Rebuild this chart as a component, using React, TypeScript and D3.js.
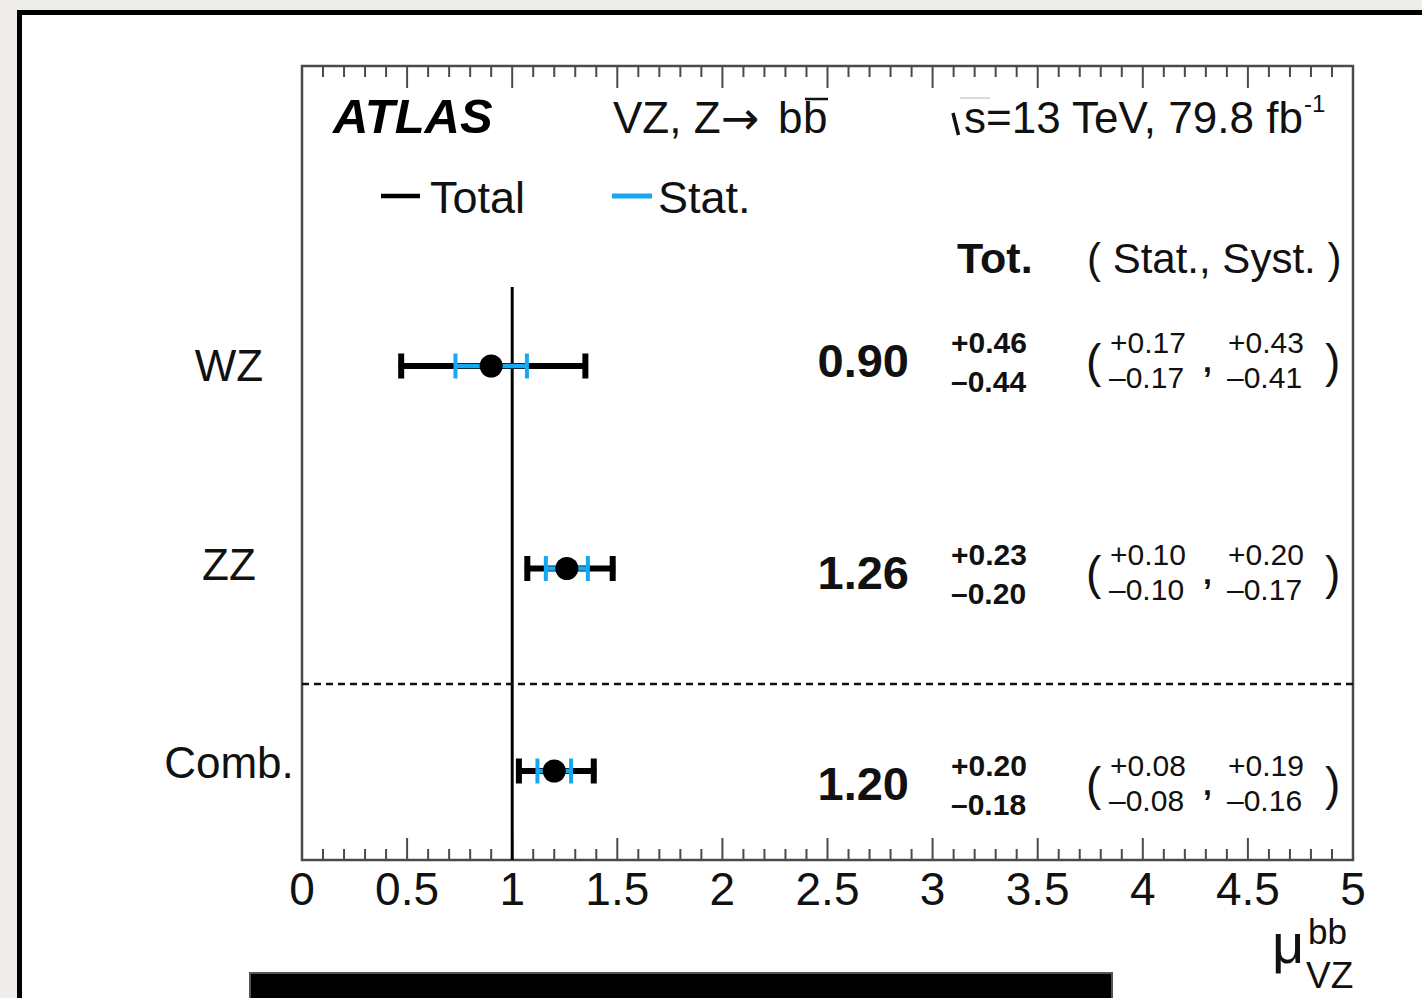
import React from "react";
import * as d3 from "d3";

const categories = ["WZ", "ZZ", "Comb."];
const central = [0.9, 1.26, 1.2];
const totUp = [0.46, 0.23, 0.2];
const totDown = [0.44, 0.2, 0.18];
const statUp = [0.17, 0.1, 0.08];
const statDown = [0.17, 0.1, 0.08];
const systUp = [0.43, 0.2, 0.19];
const systDown = [0.41, 0.17, 0.16];
const majorTicks = [0, 0.5, 1, 1.5, 2, 2.5, 3, 3.5, 4, 4.5, 5];
const tickLabels = ["0", "0.5", "1", "1.5", "2", "2.5", "3", "3.5", "4", "4.5", "5"];
const minorTicks = d3.range(0, 51).map((i) => i / 10).filter((v) => Math.abs(v * 2 - Math.round(v * 2)) > 1e-6);

const FONT = "'Liberation Sans', Arial, Helvetica, sans-serif";
const BLUE = "#16a8f2";
const FRAME = "#4a4a4a";

export default function App() {
  const W = 1422, H = 998;
  const left = 302, right = 1353, top = 66, bottom = 860;
  const x = d3.scaleLinear().domain([0, 5]).range([left, right]);
  const yMark = d3.scaleLinear().domain([0, 2]).range([366, 771]);
  const yText = d3.scaleLinear().domain([0, 2]).range([360, 783]);
  const yLab = d3.scaleLinear().domain([0, 2]).range([365, 762]);
  const fmt = d3.format(".2f");

  return (
    <svg width={W} height={H} style={{ position: "absolute", left: 0, top: 0 }} fontFamily={FONT}>
      <rect x={0} y={0} width={W} height={H} fill="#efede9" />
      <rect x={19.5} y={12.5} width={1500} height={1100} fill="#ffffff" stroke="#000" strokeWidth={5} />

      {/* plot frame */}
      <rect x={left} y={top} width={right - left} height={bottom - top} fill="none" stroke={FRAME} strokeWidth={2.5} />

      {/* ticks */}
      {majorTicks.map((v, i) => (
        <g key={"M" + i}>
          <line x1={x(v)} x2={x(v)} y1={bottom} y2={bottom - 22} stroke={FRAME} strokeWidth={2} />
          <line x1={x(v)} x2={x(v)} y1={top} y2={top + 22} stroke={FRAME} strokeWidth={2} />
          <text x={x(v)} y={905} fontSize={46} textAnchor="middle" fill="#111">{tickLabels[i]}</text>
        </g>
      ))}
      {minorTicks.map((v, i) => (
        <g key={"m" + i}>
          <line x1={x(v)} x2={x(v)} y1={bottom} y2={bottom - 11} stroke={FRAME} strokeWidth={2} />
          <line x1={x(v)} x2={x(v)} y1={top} y2={top + 11} stroke={FRAME} strokeWidth={2} />
        </g>
      ))}

      {/* axis title */}
      <text x={1272} y={963} fontSize={56} fill="#111">μ</text>
      <text x={1308} y={944} fontSize={35} fill="#111">bb</text>
      <text x={1306} y={988} fontSize={37} fill="#111">VZ</text>

      {/* header */}
      <text x={333} y={133} fontSize={49} fontWeight="bold" fontStyle="italic" fill="#000">ATLAS</text>
      <text x={613} y={133} fontSize={44} fill="#111">VZ, Z</text>
      <text x={721} y={134} fontSize={46} fontFamily="'DejaVu Sans', sans-serif" fill="#111">→</text>
      <text x={778} y={133} fontSize={44} fill="#111">b</text>
      <text x={803} y={133} fontSize={44} fill="#111">b</text>
      <line x1={805} x2={828} y1={99} y2={99} stroke="#111" strokeWidth={2.5} />
      <path d="M953,113 L958.5,135" stroke="#111" strokeWidth={3.5} fill="none" />
      <line x1={960} x2={990} y1={98} y2={98} stroke="#ccc" strokeWidth={1.5} />
      <text x={964} y={133} fontSize={44} fill="#111">s=13 TeV, 79.8 fb</text>
      <text x={1304} y={112} fontSize={24} fill="#111">-1</text>

      {/* legend */}
      <line x1={381} x2={420} y1={196} y2={196} stroke="#000" strokeWidth={4.5} />
      <text x={430} y={213} fontSize={45} fill="#111">Total</text>
      <line x1={612} x2={652} y1={196} y2={196} stroke={BLUE} strokeWidth={5} />
      <text x={658} y={213} fontSize={45} fill="#111">Stat.</text>

      {/* column headers */}
      <text x={957} y={273} fontSize={43} fontWeight="bold" fill="#111">Tot.</text>
      <text x={1087} y={273} fontSize={42} fill="#111" style={{ whiteSpace: "pre" }}>( Stat., Syst. )</text>

      {/* SM line */}
      <line x1={x(1)} x2={x(1)} y1={287} y2={bottom} stroke="#000" strokeWidth={3} />
      {/* separator */}
      <line x1={left} x2={right} y1={684} y2={684} stroke="#111" strokeWidth={2.5} strokeDasharray="7,5" />

      {categories.map((c, i) => {
        const ym = yMark(i);
        const yt = yText(i);
        const lo = x(central[i] - totDown[i]);
        const hi = x(central[i] + totUp[i]);
        const slo = x(central[i] - statDown[i]);
        const shi = x(central[i] + statUp[i]);
        return (
          <g key={c}>
            <text x={229} y={yLab(i) + 16} fontSize={44} textAnchor="middle" fill="#111">{c}</text>
            {/* total */}
            <line x1={lo} x2={hi} y1={ym} y2={ym} stroke="#000" strokeWidth={6} />
            <line x1={lo + 2.5} x2={lo + 2.5} y1={ym - 12.5} y2={ym + 12.5} stroke="#000" strokeWidth={6} />
            <line x1={hi - 2.5} x2={hi - 2.5} y1={ym - 12.5} y2={ym + 12.5} stroke="#000" strokeWidth={6} />
            {/* stat */}
            <line x1={slo} x2={shi} y1={ym} y2={ym} stroke={BLUE} strokeWidth={4.5} />
            <line x1={slo} x2={slo} y1={ym - 12.5} y2={ym + 12.5} stroke={BLUE} strokeWidth={4} />
            <line x1={shi} x2={shi} y1={ym - 12.5} y2={ym + 12.5} stroke={BLUE} strokeWidth={4} />
            <circle cx={x(central[i])} cy={ym} r={11.5} fill="#000" />

            {/* numbers */}
            <text x={909} y={yt + 17} fontSize={47} fontWeight="bold" textAnchor="end" fill="#111">{fmt(central[i])}</text>
            <text x={951} y={yt - 7} fontSize={30} fontWeight="bold" fill="#111">{"+" + fmt(totUp[i])}</text>
            <text x={951} y={yt + 32} fontSize={30} fontWeight="bold" fill="#111">{"\u2013" + fmt(totDown[i])}</text>
            <text x={1086} y={yt + 17} fontSize={46} fill="#111">(</text>
            <text x={1110} y={yt - 7} fontSize={30} fill="#111">{"+" + fmt(statUp[i])}</text>
            <text x={1109} y={yt + 28} fontSize={30} fill="#111">{"\u2013" + fmt(statDown[i])}</text>
            <text x={1203} y={yt + 12} fontSize={32} fontWeight="bold" fill="#111">,</text>
            <text x={1228} y={yt - 7} fontSize={30} fill="#111">{"+" + fmt(systUp[i])}</text>
            <text x={1227} y={yt + 28} fontSize={30} fill="#111">{"\u2013" + fmt(systDown[i])}</text>
            <text x={1325} y={yt + 17} fontSize={46} fill="#111">)</text>
          </g>
        );
      })}

      {/* bottom bar */}
      <rect x={250} y={973} width={862} height={40} fill="#000" stroke="#555" strokeWidth={2} />
    </svg>
  );
}
